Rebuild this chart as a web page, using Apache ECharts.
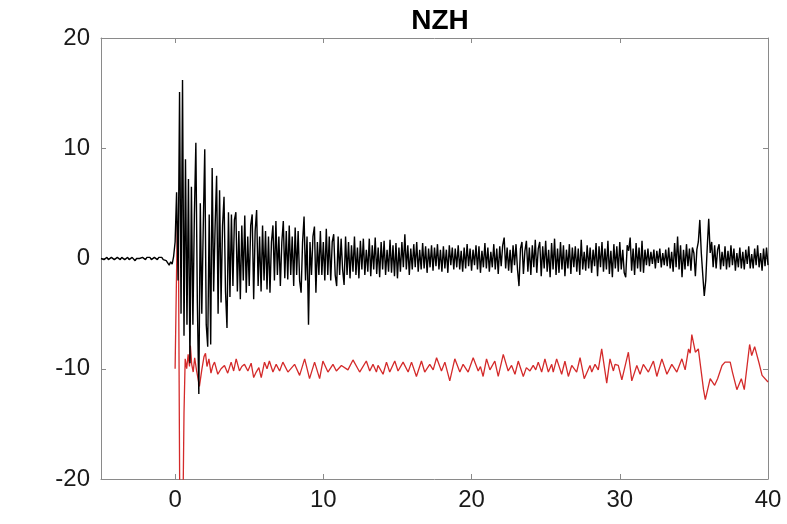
<!DOCTYPE html>
<html>
<head>
<meta charset="utf-8">
<script src="https://cdn.jsdelivr.net/npm/echarts@6/dist/echarts.min.js"></script>
<style>
html,body{margin:0;padding:0;background:#fff;}
#chart{width:787px;height:524px;}
</style>
</head>
<body>
<div id="chart"></div>
<script>
// Title and axis ticks
const chartTitle = 'NZH';
const xTickValues = [0, 10, 20, 30, 40];
const yTickValues = [-20, -10, 0, 10, 20];

// Black trace: samples every 0.1 s starting at t = -5 s
const blackStart = -5.0;
const blackStep = 0.1;
const blackValues = [
  // -5 .. -0.1
  0.0, 0.1, -0.1, 0.0, 0.1, -0.1, 0.0, 0.1, 0.0, -0.1,
  0.0, 0.1, 0.0, -0.1, 0.1, 0.0, -0.1, 0.0, 0.1, -0.1,
  0.0, 0.1, 0.0, -0.2, 0.0, 0.1, 0.0, -0.1, 0.1, 0.0,
  -0.1, 0.1, 0.0, 0.1, -0.1, 0.0, 0.1, 0.0, -0.1, 0.1,
  0.0, 0.1, -0.1, 0.0, -0.2, -0.4, -0.6, -0.3, -0.5, 0.2,
  // 0 .. 9.9
  1.5, 6.0, -2.0, 15.1, -5.0, 16.2, -7.0, 9.0, -6.0, 7.2,
  -9.5, 6.5, -6.0, 4.0, 10.5, -4.0, -12.3, 5.0, -5.0, 3.0,
  9.9, -6.0, -8.0, 4.0, -7.8, 8.2, -3.0, 3.0, 7.5, -5.0,
  6.2, -4.0, 3.0, 5.6, -3.0, -6.3, 4.2, -3.5, 4.0, -2.5,
  3.5, 4.2, -3.0, 2.5, -3.7, 3.0, -2.0, 3.9, -3.1, 2.0,
  -2.5, 3.0, 4.0, -3.7, 2.5, 4.4, -2.5, 2.0, -3.0, 3.0,
  -2.0, 2.5, -2.8, 2.0, -3.1, 1.5, 3.0, -2.0, 3.4, -1.5,
  2.0, -2.5, 1.5, 3.4, -1.8, 2.5, -1.9, 3.0, -1.5, 2.0,
  -2.5, 2.8, -1.5, 2.5, -2.0, -3.1, 1.5, 3.8, -2.0, 2.0,
  -6.0, 1.5, -1.5, 2.0, 2.9, -3.1, 1.5, -1.5, 2.5, -1.5,
  // 10 .. 19.9
  1.5, -2.0, 2.7, -1.5, 2.0, -2.0, 1.5, 2.2, -1.5, -2.5,
  2.0, -1.5, 1.8, -1.0, -2.4, 2.0, -1.5, 1.5, -1.8, 1.2,
  -1.2, 2.0, -1.5, 1.0, -1.8, 1.6, -1.0, 1.8, -1.5, 0.8,
  -1.2, 1.8, -1.6, 1.2, -1.0, 1.9, -1.4, 1.0, -1.7, 1.5,
  -1.0, 1.6, -1.5, 0.8, -1.2, 1.7, -1.3, 1.2, -1.6, 1.4,
  -1.8, 1.0, -1.2, 1.5, -0.8, 2.2, -1.0, 1.2, -1.5, 0.9,
  -1.0, 1.3, -0.8, 1.5, -1.2, 0.8, -1.0, 1.4, -0.9, 1.1,
  -1.3, 0.9, -0.8, 1.2, -1.1, 1.0, -0.7, 1.3, -1.0, 0.8,
  -1.2, 1.1, -0.9, 0.8, -1.3, 1.2, -0.6, 1.0, -1.0, 0.9,
  -0.8, 1.2, -1.0, 0.7, -1.2, 1.0, -0.9, 1.3, -0.7, 0.9,
  // 20 .. 29.9
  -1.1, 0.8, -0.6, 1.2, -1.0, 1.1, -1.3, 0.7, -0.8, 1.4,
  -0.9, 1.0, -1.2, 0.6, -0.8, 1.3, -1.0, 0.9, -1.4, 1.1,
  -0.7, 1.2, 1.9, -0.9, 1.0, -1.1, 0.8, -1.3, 1.2, -0.6,
  1.3, -1.0, -2.5, 0.9, 1.5, -1.4, 0.7, 1.6, -1.2, 1.0,
  -1.5, 1.2, -0.8, 1.7, -1.3, 0.9, 1.5, -1.6, 1.1, -0.9,
  1.6, -1.2, 0.8, -1.7, 1.4, -1.0, 1.8, -1.5, 0.9, -1.3,
  1.5, -1.0, 1.2, -1.6, 0.8, -0.9, 1.3, -1.4, 1.0, -0.8,
  1.1, -1.2, 0.9, -1.5, 1.7, -1.0, 0.6, -1.1, 1.2, -0.9,
  1.0, -1.3, 0.8, -0.7, 1.4, -1.6, 1.1, -0.8, 1.5, -1.2,
  0.9, -1.0, 1.6, -1.4, 0.7, -1.7, 1.3, -0.9, 1.1, -1.2,
  // 30 .. 39.9
  1.5, -1.0, 0.8, -1.3, -1.7, 1.2, 0.7, 1.9, -1.1, 0.9,
  -1.5, 1.4, -0.9, 1.0, -1.2, 1.6, -1.3, 0.8, -0.6, 0.9,
  -0.7, 0.6, -0.5, 0.8, -0.9, 0.7, -0.4, 0.9, -0.8, 0.5,
  -0.6, 0.8, -0.7, 1.0, -0.9, 0.6, -1.2, 1.4, -0.8, 2.0,
  -1.0, 1.2, -1.7, 0.8, -1.0, 1.3, -0.7, 0.9, -1.1, 1.0,
  0.5, -1.6, 0.8, 1.5, 3.5, 0.5, -1.5, -3.4, -2.0, 1.0,
  3.6, 0.5, 1.5, -0.8, 1.2, -0.9, 0.8, 1.3, -1.0, 0.6,
  -0.7, 1.1, -1.0, 0.7, -0.8, 1.2, -0.6, 0.9, -1.1, 0.5,
  -0.8, 1.0, -0.9, 0.6, -1.0, 0.8, -0.5, 1.1, -0.9, 0.4,
  -0.9, 0.9, -0.6, 1.2, -0.8, 0.5, -1.1, 0.9, -0.7, 1.0,
  // 40
  -0.6
];

// Red trace: vertex times (s) and values
const redTimes = [
  0, 0.08, 0.15, 0.22, 0.32, 0.42, 0.52, 0.6, 0.68, 0.78,
  0.88, 0.97, 1.03, 1.12, 1.22, 1.32, 1.45, 1.64, 1.8, 1.95,
  2.05, 2.15, 2.28, 2.42, 2.55, 2.66, 2.88, 3.1, 3.33, 3.55,
  3.78, 3.95, 4.12, 4.34, 4.5, 4.68, 4.91, 5.13, 5.3, 5.47,
  5.65, 5.81, 6.03, 6.2, 6.36, 6.6, 6.82, 7.05, 7.27, 7.61,
  8.06, 8.4, 8.74, 9.07, 9.41, 9.75, 9.97, 10.31, 10.65, 10.88,
  11.22, 11.66, 12.0, 12.45, 12.9, 13.13, 13.35, 13.58, 13.69, 14.03,
  14.26, 14.48, 14.82, 15.04, 15.38, 15.72, 15.95, 16.28, 16.62, 16.84,
  17.18, 17.41, 17.64, 17.97, 18.2, 18.53, 18.87, 19.21, 19.43, 19.77,
  20.11, 20.45, 20.6, 20.78, 21.01, 21.24, 21.57, 21.8, 22.14, 22.47,
  22.7, 22.93, 23.15, 23.49, 23.7, 23.94, 24.16, 24.33, 24.5, 24.73,
  24.95, 25.18, 25.41, 25.51, 25.74, 26.08, 26.3, 26.53, 26.76, 27.09,
  27.32, 27.6, 27.99, 28.11, 28.33, 28.55, 28.78, 29.12, 29.34, 29.57,
  29.68, 29.9, 30.14, 30.58, 30.81, 31.15, 31.37, 31.59, 31.93, 32.27,
  32.5, 32.84, 33.18, 33.51, 33.85, 34.19, 34.41, 34.64, 34.75, 34.86,
  35.1, 35.3, 35.65, 35.77, 36.1, 36.4, 36.6, 36.9, 37.1, 37.45,
  37.6, 37.9, 38.2, 38.4, 38.76, 38.9, 39.1, 39.4, 39.6, 40.0
];
const redValues = [
  -10.0, -10.0, 3.4, 2.5, -24, -30, -24, -14, -9.1, -10.0,
  -8.7, -9.8, -7.9, -9.6, -10.3, -9.0, -10.2, -11.6, -10.1, -8.9,
  -8.6, -9.8, -9.1, -10.4, -9.7, -9.4, -10.5, -10.0, -9.7, -10.4,
  -9.4, -10.2, -9.1, -10.2, -9.8, -9.6, -10.2, -9.5, -10.8, -10.3,
  -9.9, -10.8, -9.4, -10.0, -9.3, -10.3, -9.6, -10.2, -9.4, -10.3,
  -9.6, -10.6, -9.1, -10.9, -9.4, -10.9, -9.3, -10.3, -9.6, -10.2,
  -9.7, -10.1, -9.2, -10.3, -9.3, -10.2, -9.6, -10.3, -9.7, -10.5,
  -9.4, -10.3, -9.3, -10.2, -9.4, -10.3, -9.4, -10.7, -9.3, -10.3,
  -9.6, -10.1, -9.0, -10.2, -9.4, -11.1, -9.1, -10.3, -9.6, -10.3,
  -9.0, -10.2, -9.8, -10.7, -9.1, -10.1, -9.3, -10.7, -8.7, -10.2,
  -9.7, -10.5, -9.3, -10.7, -9.9, -10.2, -9.7, -10.1, -9.4, -10.3,
  -9.1, -10.3, -9.6, -10.3, -9.1, -10.5, -9.3, -10.7, -9.7, -10.3,
  -9.0, -10.9, -9.7, -10.3, -9.6, -10.1, -8.2, -11.3, -9.1, -10.2,
  -9.6, -9.7, -11.0, -8.5, -11.1, -9.7, -10.5, -9.6, -10.3, -9.3,
  -10.7, -9.1, -10.5, -9.6, -10.3, -9.1, -10.1, -8.2, -8.6, -6.9,
  -8.5, -8.2, -11.9, -12.8, -10.9, -11.5, -10.9, -9.7, -9.4, -9.4,
  -10.3, -11.9, -10.9, -11.9, -7.8, -8.8, -8.0, -9.5, -10.6, -11.2
];

const blackData = blackValues.map((v, i) => [+(blackStart + i * blackStep).toFixed(2), v]);
const redData = redTimes.map((t, i) => [t, redValues[i]]);

const axisColor = '#8a8a8a';
const labelColor = '#1a1a1a';
const fontFamily = '"Liberation Sans", Arial, Helvetica, sans-serif';

const chart = echarts.init(document.getElementById('chart'), null, {renderer: 'canvas'});
chart.setOption({
  animation: false,
  backgroundColor: '#ffffff',
  title: {
    text: chartTitle,
    left: 435,
    top: 2,
    textAlign: 'center',
    textStyle: {fontFamily: fontFamily, fontSize: 28, fontWeight: 'bold', color: '#000'}
  },
  grid: {left: 101, right: 19, top: 38, bottom: 45, containLabel: false},
  xAxis: [
    {
      type: 'value', min: -5, max: 40, position: 'bottom',
      axisLine: {show: true, onZero: false, lineStyle: {color: axisColor, width: 1}},
      axisTick: {show: true, inside: true, length: 5, customValues: xTickValues, lineStyle: {color: axisColor}},
      axisLabel: {show: true, customValues: xTickValues, margin: 9, fontSize: 24, color: labelColor, fontFamily: fontFamily},
      splitLine: {show: false}
    },
    {
      type: 'value', min: -5, max: 40, position: 'top',
      axisLine: {show: true, onZero: false, lineStyle: {color: axisColor, width: 1}},
      axisTick: {show: true, inside: true, length: 5, customValues: xTickValues, lineStyle: {color: axisColor}},
      axisLabel: {show: false},
      splitLine: {show: false}
    }
  ],
  yAxis: [
    {
      type: 'value', min: -20, max: 20, interval: 10, position: 'left',
      axisLine: {show: true, onZero: false, lineStyle: {color: axisColor, width: 1}},
      axisTick: {show: true, inside: true, length: 5, customValues: yTickValues, lineStyle: {color: axisColor}},
      axisLabel: {show: true, customValues: yTickValues, margin: 11, fontSize: 24, color: labelColor, fontFamily: fontFamily},
      splitLine: {show: false}
    },
    {
      type: 'value', min: -20, max: 20, interval: 10, position: 'right',
      axisLine: {show: true, onZero: false, lineStyle: {color: axisColor, width: 1}},
      axisTick: {show: true, inside: true, length: 5, customValues: yTickValues, lineStyle: {color: axisColor}},
      axisLabel: {show: false},
      splitLine: {show: false}
    }
  ],
  series: [
    {
      type: 'line', name: 'black', data: blackData, xAxisIndex: 0, yAxisIndex: 0,
      showSymbol: false, symbol: 'none', clip: true,
      lineStyle: {color: '#000000', width: 1.4}, z: 3
    },
    {
      type: 'line', name: 'red', data: redData, xAxisIndex: 0, yAxisIndex: 0,
      showSymbol: false, symbol: 'none', clip: true,
      lineStyle: {color: '#d42a2a', width: 1.3}, z: 2
    }
  ]
});
</script>
</body>
</html>
